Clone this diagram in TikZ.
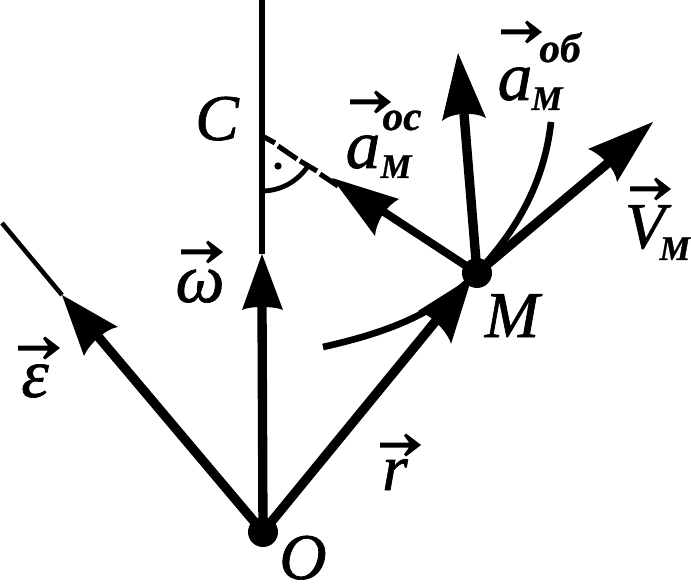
\documentclass[tikz,border=0pt]{standalone}
\usepackage{fontspec}
\setmainfont{Liberation Serif}[ItalicFeatures={FakeBold=1.0},BoldItalicFeatures={FakeBold=0.8}]
\newcommand{\bigtxt}{\fontsize{49}{49}\selectfont\itshape}
\newcommand{\greektxt}{\fontsize{52}{52}\selectfont\itshape}
\newcommand{\subtxt}{\fontsize{26}{26}\selectfont\bfseries\itshape}
\newcommand{\suptxt}{\fontsize{31}{31}\selectfont\bfseries\itshape}
\tikzset{
  x=0.75pt,y=-0.75pt,
  thinline/.style={line width=4pt},
  shaft/.style={line width=7pt},
  curveline/.style={line width=5pt},
  headfill/.style={fill=black,draw=none},
  dashseg/.style={line width=3.8pt},
  lab/.style={anchor=base,inner sep=0pt,outer sep=0pt},
  pt/.style={circle,fill=black,inner sep=0pt,minimum size=22.5pt},
}
\newcommand{\vecmark}[3]{%
  \fill (#1,#3-2.5) -- (#2-12,#3-2.5) -- (#2-17,#3-9.5) -- (#2-15,#3-11.5) -- (#2,#3) -- (#2-15,#3+11.5) -- (#2-17,#3+9.5) -- (#2-12,#3+2.5) -- (#1,#3+2.5) -- cycle;}
\begin{document}
\begin{tikzpicture}
\useasboundingbox (0,0) rectangle (691,584);
\coordinate (Otop) at (262,0);
\coordinate (Otip) at (262,254);
\coordinate (Onotch) at (262,306);
\coordinate (Efree) at (2,223);
\coordinate (Etip) at (62,295);
\coordinate (Enotch) at (96,334);
\coordinate (Rtip) at (472,277);
\coordinate (Rnotch) at (439,317);
\coordinate (Vtip) at (653,122);
\coordinate (Vnotch) at (608,163);
\coordinate (Atip) at (458,53);
\coordinate (Anotch) at (464,114);
\coordinate (Btip) at (332,178);
\coordinate (Bnotch) at (384,212);
% thin axes
\draw[thinline] (Otop) -- (Otip);
\draw[line width=3.4pt] (Efree) -- (Etip);
% dashed normal
\coordinate (d1a) at (264,137); \coordinate (d1b) at (275,143);
\coordinate (d2a) at (278,146); \coordinate (d2b) at (297,159);
\coordinate (d3a) at (300,161); \coordinate (d3b) at (317,171);
\coordinate (d4a) at (320,174); \coordinate (d4b) at (338,186);
\draw[dashseg] (d1a)--(d1b) (d2a)--(d2b) (d3a)--(d3b) (d4a)--(d4b);
% right-angle arc and dot
\coordinate (arcA) at (262,191); \coordinate (arcB) at (308,166);
\draw[line width=3.6pt] (arcA) .. controls (281,191) and (298,181) .. (arcB);
\node[circle,fill=black,inner sep=0pt,minimum size=5.5pt] (dotC) at (278,166) {};
% trajectory
\coordinate (T1) at (323,347); \coordinate (T2) at (551,122);
\node[pt] (M) at (477,273) {};
\node[pt] (O) at (263,532) {};
\draw[curveline] (T1) .. controls (385,333) and (435,315) .. (M.center);
\draw[curveline] (M.center) .. controls (515,232) and (544,185) .. (T2);
% shafts
\draw[shaft] (O.center) -- (Onotch);
\draw[shaft] (O.center) -- (Enotch);
\draw[shaft] (O.center) -- (Rnotch);
\draw[shaft] (M.center) -- (Vnotch);
\draw[shaft] (M.center) -- (Anotch);
\draw[line width=6pt] (M.center) -- (Bnotch);
% heads
\fill[headfill] (Otip) -- (283,310) .. controls (275,306) and (249,306) .. (242,310) -- cycle;
\fill[headfill] (Etip) -- (118,327) .. controls (108,328) and (90,342) .. (84,356) -- cycle;
\fill[headfill] (Rtip) -- (451,344) .. controls (448,332) and (430,314) .. (418,311) -- cycle;
\fill[headfill] (Vtip) -- (617,182) .. controls (616,170) and (601,154) .. (588,149) -- cycle;
\fill[headfill] (Atip) -- (486,118) .. controls (476,112) and (452,112) .. (442,121) -- cycle;
\fill[headfill] (Btip) -- (375,236) .. controls (376,222) and (386,206) .. (399,199) -- cycle;
% vector marks
\vecmark{501}{542}{32}
\vecmark{350}{391}{102}
\vecmark{630}{671}{189}
\vecmark{181}{223}{252}
\vecmark{18}{60}{348}
\vecmark{380}{421}{445}
% labels
\node[lab] (lC) at (217,140) {\bigtxt C};
\node[lab] (lO) at (303,579) {\bigtxt O};
\node[lab] (lM) at (512,337) {\bigtxt M};
\node[lab] (lr) at (395,490) {\bigtxt r};
\node[lab] (lV) at (645,248) {\bigtxt V};
\node[lab] (lVs) at (675,260) {\subtxt М};
\node[lab] (lw) at (200,302) {\greektxt ω};
\node[lab] (le) at (35,397) {\greektxt ε};
\node[lab] (la1) at (515,100) {\greektxt a};
\node[lab] (la1s) at (547,110) {\subtxt М};
\node[lab] (la1t) at (560,62) {\suptxt об};
\node[lab] (la2) at (363,168) {\greektxt a};
\node[lab] (la2s) at (396,178) {\subtxt М};
\node[lab] (la2t) at (402,130) {\suptxt ос};
\end{tikzpicture}
\end{document}
